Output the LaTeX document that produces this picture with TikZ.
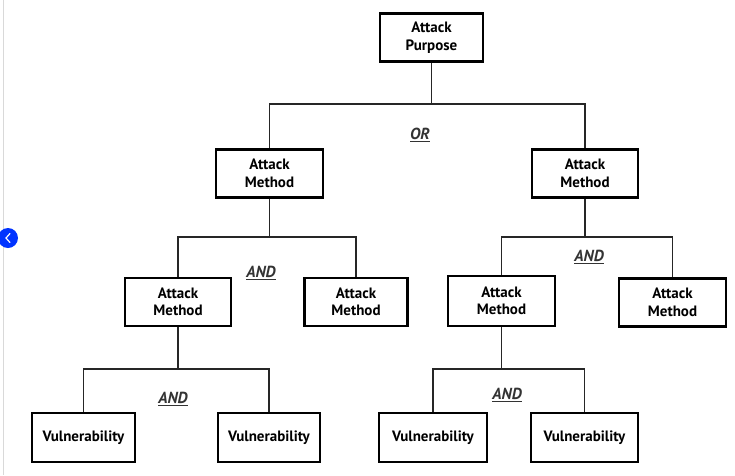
\documentclass[tikz,border=0pt]{standalone}
\usepackage{fontspec}
\setmainfont{PT Sans}
\begin{document}
\begin{tikzpicture}[x=1pt,y=-1pt,
  box/.style={draw=black, line width=2.7pt, fill=white, align=center,
    font=\bfseries\fontsize{15}{17.5}\selectfont, minimum height=48pt, inner sep=0pt},
  conn/.style={draw=black!85, line width=1.4pt},
  gate/.style={font=\bfseries\itshape\fontsize{16}{18}\selectfont, text=black!80, inner sep=0pt}]
\useasboundingbox (0,0) rectangle (735,475);
\fill[white] (0,0) rectangle (735,475);
% screenshot frame line and side button
\draw[black!15, line width=1pt] (3.5,0) -- (3.5,475);
\fill[blue!80!cyan] (8,238) circle (10pt);
\draw[white, line width=1.2pt, line cap=round] (10,233.5) -- (6,238) -- (10,242.5);
% nodes
\node[box, minimum width=103pt] (ap) at (431.5,37.5) {Attack\\Purpose};
\node[box, minimum width=107pt] (m1) at (269.5,173.5) {Attack\\Method};
\node[box, minimum width=106pt] (m2) at (585,173.5) {Attack\\Method};
\node[box, minimum width=106pt] (m11) at (178,302) {Attack\\Method};
\node[box, minimum width=103pt] (m12) at (356,302) {Attack\\Method};
\node[box, minimum width=107pt, minimum height=50pt] (m21) at (501.5,301) {Attack\\Method};
\node[box, minimum width=107pt] (m22) at (672.5,302.5) {Attack\\Method};
\node[box, minimum width=103pt, minimum height=49pt] (v1) at (83.5,437.5) {Vulnerability};
\node[box, minimum width=102pt, minimum height=49pt] (v2) at (269,437.5) {Vulnerability};
\node[box, minimum width=108pt, minimum height=49pt] (v3) at (433,437.5) {Vulnerability};
\node[box, minimum width=107pt, minimum height=49pt] (v4) at (584.5,437.5) {Vulnerability};
% junction coordinates
\coordinate (j0) at (431.5,104);
\coordinate (j1) at (269.5,237);
\coordinate (j2) at (585,237);
\coordinate (j11) at (178,369);
\coordinate (j21) at (501.5,369);
% connectors
\draw[conn] (ap.south) -- (j0);
\draw[conn] (m1.north) |- (j0) -| (m2.north);
\draw[conn] (m1.south) -- (j1);
\draw[conn] (m11.north) |- (j1) -| (m12.north);
\draw[conn] (m2.south) -- (j2);
\draw[conn] (m21.north) |- (j2) -| (m22.north);
\draw[conn] (m11.south) -- (j11);
\draw[conn] (v1.north) |- (j11) -| (v2.north);
\draw[conn] (m21.south) -- (j21);
\draw[conn] (v3.north) |- (j21) -| (v4.north);
% gate labels
\node[gate] (g0) at (420,135) {\underline{OR}};
\node[gate] (g1) at (261,273) {\underline{AND}};
\node[gate] (g2) at (589,257) {\underline{AND}};
\node[gate] (g3) at (173,399) {\underline{AND}};
\node[gate] (g4) at (507,395) {\underline{AND}};
\end{tikzpicture}
\end{document}
